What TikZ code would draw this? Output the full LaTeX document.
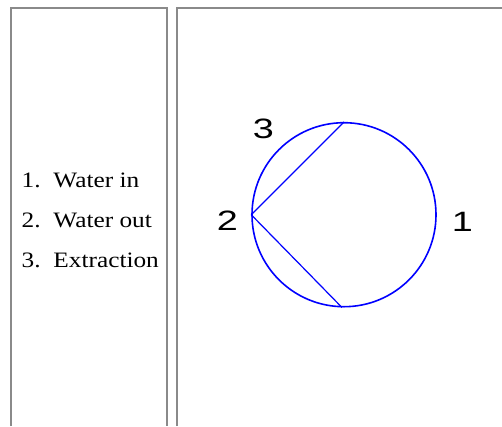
\documentclass[tikz,border=0pt]{standalone}
\usepackage{fontspec}
\usepackage{xcolor}
\setmainfont{Liberation Serif}
\newfontfamily\pmplistfont[FakeStretch=1.15]{Liberation Serif}
\newfontfamily\pmpportfont[FakeStretch=1.35]{Liberation Sans}
\definecolor{pmpink}{HTML}{000000}
\definecolor{pmpframe}{HTML}{8A8A8A}
\definecolor{pmpcasing}{HTML}{0000FF}
\usepackage{tikz}
\usetikzlibrary{calc}

\begin{document}
\begin{tikzpicture}[
    x=1pt, y=-1pt,
    panel/.style={draw=pmpframe, line width=2pt},
    casing/.style={circle, draw=pmpcasing, line width=1.6pt, minimum size=184pt,
                   inner sep=0pt},
    chord/.style={draw=pmpcasing, line width=1.2pt},
    legend/.style={anchor=base west, inner sep=0pt, color=pmpink,
                   font=\pmplistfont\fontsize{22}{26}\selectfont},
    portlbl/.style={anchor=base, inner sep=0pt, color=pmpink,
                    font=\pmpportfont\fontsize{28}{32}\selectfont},
  ]

  \useasboundingbox (0,0) rectangle (502,426);

  \draw[panel] (11,426) -- (11,8) -- (166.5,8) -- (166.5,426);
  \draw[panel] (176.5,426) -- (176.5,8) -- (502,8);

  \node[legend] (L1) at (21.5,187.5) {\makebox[31.8pt][l]{1.}Water in};
  \node[legend] (L2) at (21.5,227.3) {\makebox[31.8pt][l]{2.}Water out};
  \node[legend] (L3) at (21.5,267.3) {\makebox[31.8pt][l]{3.}Extraction};

  \node[casing] (PUMP) at (344,214.7) {};

  \draw[chord] (PUMP.west) -- (PUMP.north);
  \draw[chord] (PUMP.west) -- ($(PUMP.south)+(-2,0)$);

  \node[portlbl] (P1) at (462.5,231) {1};
  \node[portlbl] (P2) at (227.5,230) {2};
  \node[portlbl] (P3) at (263.5,138) {3};

\end{tikzpicture}
\end{document}
